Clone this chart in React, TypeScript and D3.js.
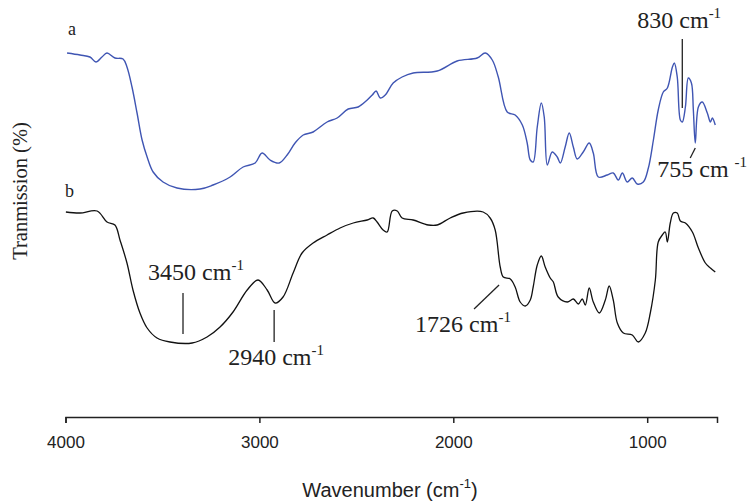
import React, { useEffect, useRef } from "react";
import * as d3 from "d3";

// Wavenumber (cm-1) and transmission (%)
const waveA = [3992,3925,3874,3843,3812,3786,3745,3703,3683,3657,3631,3605,3579,3548,3497,3425,3306,3239,3151,3084,3022,2986,2945,2898,2857,2816,2774,2723,2651,2599,2542,2491,2444,2418,2398,2377,2351,2310,2264,2207,2083,1980,1877,1835,1799,1768,1722,1681,1644,1619,1603,1588,1567,1546,1531,1515,1490,1464,1448,1423,1402,1381,1361,1330,1299,1278,1252,1206,1175,1149,1128,1103,1077,1051,1020,994,968,943,917,896,870,860,845,829,819,803,788,772,762,752,736,716,690,674,664,649];
const transA = [91.25,90.75,90.25,89,90.25,91.25,90,89.75,87.75,82.75,76.25,69.5,65.25,61.5,59,57.5,57.25,58.25,60.25,62.75,63.75,66.25,64.5,63.75,65.75,68.75,70.75,71.5,74,75,77.25,77.75,79.5,80.75,81.75,80,80.75,83.75,85.25,86.25,86.75,89.25,90,91.25,89.5,85.25,76.5,75.75,73.25,68.75,64.5,64,72.75,78.75,75.25,63.25,66.5,65.25,63.75,67.75,71.25,67.75,64.75,66.5,68.75,66.25,60.25,60.75,61.25,59.5,61.25,59,60,58.5,59,62.5,69.5,77,81.5,82.5,87.75,88.75,85.25,74.5,74,77.75,85,83.75,77,68.75,77.75,79,76.25,74,75,73.25];

const waveB = [3998,3925,3837,3786,3745,3719,3683,3652,3616,3579,3528,3461,3347,3270,3203,3136,3063,3007,2960,2919,2878,2826,2780,2723,2651,2584,2516,2444,2413,2393,2362,2341,2315,2289,2264,2207,2129,2083,2016,1949,1846,1810,1784,1758,1742,1706,1681,1655,1629,1603,1588,1567,1546,1526,1500,1484,1459,1412,1381,1355,1335,1319,1299,1278,1247,1216,1196,1175,1154,1123,1077,1046,1010,984,958,943,922,907,896,881,865,845,829,803,767,736,700,674,649];
const transB = [51.5,51.25,51.75,49,48.25,44.5,38.75,32,26.25,22.5,20,19,18.75,20.25,22.75,26.5,32,34.5,32,28.75,30.25,36.25,41.25,43.75,45.75,47.5,48.75,49.5,50,49,47,46.5,51.75,51.75,50,49.5,48.25,48.25,50,51.25,51.5,50,47,37.75,35.25,34.75,32.75,29,28,29.5,32.75,38.25,40.5,37.75,35,34,30.25,29,29.75,28.5,29.75,28.25,32.5,29,26.25,29.5,33,29.5,23.75,21.25,20.75,19,21.25,26.25,34.5,44,45.75,46.5,44,48.75,51.25,51.25,49.25,48.75,46.5,42.5,38.75,37.5,36.5];

const xTicks = [4000, 3000, 2000, 1000];

// Peak annotations: label, superscript, line wavenumbers / values, text anchor
const annLabels = ["830 cm", "755 cm ", "3450 cm", "2940 cm", "1726 cm"];
const annSup = ["-1", "-1", "-1", "-1", "-1"];
const annLineW1 = [819, 752, 3394, 2924, 1893];
const annLineW2 = [819, 778, 3394, 2924, 1764];
const annLineV1 = [94.75, 67.5, 31.25, 27, 27.25];
const annLineV2 = [77.5, 65, 21, 19, 33.25];
const annTextW = [1051, 948, 3574, 3161, 2197];
const annTextV = [97.5, 60.25, 34.5, 13.25, 21.5];

const W = 753, H = 504;

export default function App() {
  const axRef = useRef<SVGGElement>(null);
  const x = d3.scaleLinear().domain([4000, 640]).range([65.5, 717]);
  const y = d3.scaleLinear().domain([0, 100]).range([418, 18]);

  const line = d3.line<[number, number]>().x(d => x(d[0])).y(d => y(d[1])).curve(d3.curveCatmullRom.alpha(0.5));
  const dataA = waveA.map((w, i) => [w, transA[i]] as [number, number]);
  const dataB = waveB.map((w, i) => [w, transB[i]] as [number, number]);

  useEffect(() => {
    if (!axRef.current) return;
    const g = d3.select(axRef.current);
    g.selectAll("*").remove();
    g.call(d3.axisBottom(x).tickValues(xTicks).tickSizeOuter(0).tickSize(6).tickPadding(13).tickFormat(d3.format("d")) as any);
    g.select(".domain").attr("stroke", "#222").attr("stroke-width", 1.5);
    g.selectAll(".tick line").attr("stroke", "#222").attr("stroke-width", 1.5);
    g.selectAll(".tick text")
      .attr("fill", "#222")
      .style("font-family", "'Liberation Sans', Arial, sans-serif")
      .style("font-size", "17px");
  }, []);

  const serif = "'Liberation Serif', 'Times New Roman', serif";

  return (
    <svg width={W} height={H} style={{ position: "absolute", left: 0, top: 0, background: "#fff" }}>
      <rect width={W} height={H} fill="#fff" />
      <path d={line(dataA) || ""} fill="none" stroke="#3f55b3" strokeWidth={1.4} />
      <path d={line(dataB) || ""} fill="none" stroke="#111" strokeWidth={1.3} />
      <g ref={axRef} transform={`translate(0,${y(0) - 1})`} />

      <text x={68} y={35} fontFamily={serif} fontSize={18} fill="#222">a</text>
      <text x={65} y={197} fontFamily={serif} fontSize={18} fill="#222">b</text>

      {annLabels.map((lab, i) => (
        <g key={i}>
          <line x1={x(annLineW1[i])} x2={x(annLineW2[i])} y1={y(annLineV1[i])} y2={y(annLineV2[i])}
            stroke="#222" strokeWidth={1.3} />
          <text x={x(annTextW[i])} y={y(annTextV[i])} fontFamily={serif} fontSize={24} fill="#222">
            {lab}
            <tspan fontSize={15} dy={-10}>{annSup[i]}</tspan>
          </text>
        </g>
      ))}

      <text transform="translate(27,191) rotate(-90)" textAnchor="middle" fontFamily={serif} fontSize={20.5} fill="#222">
        Tranmission (%)
      </text>
      <text x={390} y={497} textAnchor="middle" fontFamily="'Liberation Sans', Arial, sans-serif" fontSize={20} fill="#222">
        Wavenumber (cm<tspan fontSize={13} dy={-9}>-1</tspan><tspan dy={9}>)</tspan>
      </text>
    </svg>
  );
}
